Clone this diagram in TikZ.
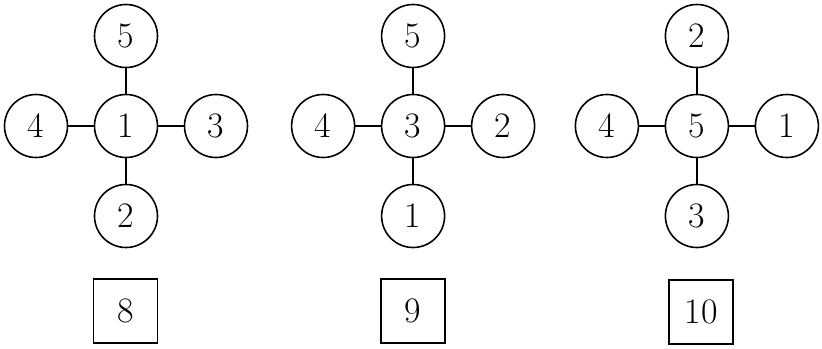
\documentclass[tikz,border=0pt]{standalone}
\begin{document}
\begin{tikzpicture}[
	ball/.style={ circle, draw, line width=1.5pt, inner sep=0pt, minimum size=2.1cm, font=\fontsize{34}{38}\selectfont },
	tag/.style={ rectangle, draw, line width=1.5pt, inner sep=0pt, minimum size=2.13cm, font=\fontsize{34}{38}\selectfont },
	every path/.style={ line width=1.5pt }
]
\useasboundingbox (0,0) rectangle (27.4,-11.6);

\node[ball] at (4.2,-4.2) (m) {1};
\node[ball] at (4.2,-1.2) (t) {5};
\node[ball] at (1.2,-4.2) (l) {4};
\node[ball] at (7.2,-4.2) (r) {3};
\node[ball] at (4.2,-7.2) (b) {2};
\draw (m) to (t);
\draw (m) to (l);
\draw (m) to (r);
\draw (m) to (b);
\node[tag] at (4.18,-10.37) (n) {8};

\node[ball] at (13.77,-4.2) (m) {3};
\node[ball] at (13.77,-1.2) (t) {5};
\node[ball] at (10.77,-4.2) (l) {4};
\node[ball] at (16.77,-4.2) (r) {2};
\node[ball] at (13.77,-7.2) (b) {1};
\draw (m) to (t);
\draw (m) to (l);
\draw (m) to (r);
\draw (m) to (b);
\node[tag] at (13.77,-10.37) (n) {9};

\node[ball] at (23.23,-4.2) (m) {5};
\node[ball] at (23.23,-1.2) (t) {2};
\node[ball] at (20.23,-4.2) (l) {4};
\node[ball] at (26.23,-4.2) (r) {1};
\node[ball] at (23.23,-7.2) (b) {3};
\draw (m) to (t);
\draw (m) to (l);
\draw (m) to (r);
\draw (m) to (b);
\node[tag] at (23.37,-10.4) (n) {10};

\end{tikzpicture}
\end{document}
